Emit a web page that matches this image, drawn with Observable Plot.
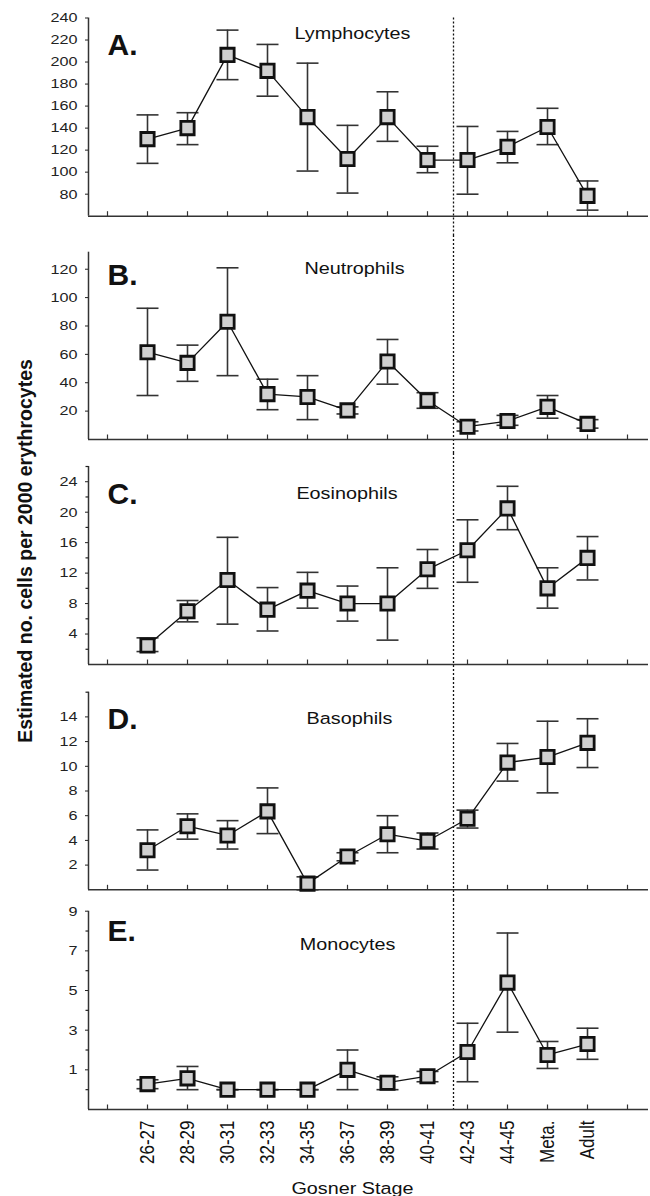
<!DOCTYPE html>
<html>
<head>
<meta charset="utf-8">
<script src="https://cdn.jsdelivr.net/npm/d3@7"></script>
<script src="https://cdn.jsdelivr.net/npm/@observablehq/plot@0.6"></script>
<style>
  body { margin: 0; background: #fff; }
  #chart { position: relative; width: 650px; height: 1196px; font-family: "Liberation Sans", Arial, Helvetica, sans-serif; }
  #chart svg { display: block; overflow: visible; }
  #ylabel { position: absolute; left: 26px; top: 551px; transform: translate(-50%, -50%) rotate(-90deg);
            white-space: nowrap; font-weight: bold; font-size: 19.5px; line-height: 1; color: #111; }
</style>
</head>
<body>
<div id="chart"><div id="ylabel">Estimated no. cells per 2000 erythrocytes</div></div>
<script>
// ---------- data ----------
const stages = ["26-27", "28-29", "30-31", "32-33", "34-35", "36-37", "38-39", "40-41", "42-43", "44-45", "Meta.", "Adult"];

const lymphMean = [130, 140, 206.5, 192, 150, 112, 150, 111, 111, 123, 141, 78.5];
const lymphLow  = [108, 125, 184, 169, 101, 81, 128, 99.5, 80, 108.5, 125, 65.5];
const lymphHigh = [152, 154, 229, 216, 199, 142.5, 173, 123.5, 141.5, 137, 158, 92];

const neutroMean = [61.5, 54, 83, 32, 30, 20.5, 55, 27.5, 9, 13, 23, 11];
const neutroLow  = [31, 41, 45, 21, 14, 18, 39, 22, 6, 10, 15, 8];
const neutroHigh = [92.5, 66.5, 121, 42.5, 45, 23, 70.5, 33, 12.5, 17, 31, 14];

const eosinoMean = [2.5, 7, 11.1, 7.2, 9.7, 8, 8, 12.5, 15, 20.5, 10, 14];
const eosinoLow  = [1.7, 5.6, 5.3, 4.4, 7.4, 5.7, 3.2, 10, 10.8, 17.7, 7.4, 11.1];
const eosinoHigh = [3.5, 8.4, 16.7, 10.1, 12.1, 10.3, 12.7, 15.1, 19, 23.4, 12.7, 16.8];

const basoMean = [3.2, 5.15, 4.4, 6.35, 0.5, 2.7, 4.5, 3.95, 5.75, 10.3, 10.75, 11.9];
const basoLow  = [1.6, 4.1, 3.3, 4.55, 0, 2.35, 3, 3.3, 5.0, 8.8, 7.85, 9.9];
const basoHigh = [4.85, 6.15, 5.6, 8.25, 1.05, 3.0, 6, 4.6, 6.45, 11.85, 13.65, 13.85];

const monoMean = [0.28, 0.57, 0, 0, 0, 1.0, 0.35, 0.68, 1.9, 5.4, 1.75, 2.3];
const monoLow  = [0.05, 0, 0, 0, 0, 0, 0, 0.4, 0.4, 2.9, 1.07, 1.53];
const monoHigh = [0.5, 1.17, 0, 0, 0, 2.0, 0.65, 0.92, 3.35, 7.9, 2.43, 3.1];

const panelTitles  = ["Lymphocytes", "Neutrophils", "Eosinophils", "Basophils", "Monocytes"];
const panelLetters = ["A.", "B.", "C.", "D.", "E."];
const yDomains = [[60, 240], [0, 132], [0, 26], [0, 16], [-1, 9]];
const yTicksA = [80, 100, 120, 140, 160, 180, 200, 220, 240];
const yTicksB = [20, 40, 60, 80, 100, 120];
const yTicksC = [4, 8, 12, 16, 20, 24];
const yTicksD = [2, 4, 6, 8, 10, 12, 14];
const yTicksE = [1, 3, 5, 7, 9];
const yMinorC = [2, 6, 10, 14, 18, 22, 26];
const yMinorD = [16];
const yMinorE = [0, 2, 4, 6, 8];
const xAxisTitle = "Gosner Stage";
const stageDivider = [8.65]; // between 40-41 and 42-43 (index units)

// ---------- layout / style ----------
const FONT = '"Liberation Sans", Arial, Helvetica, sans-serif';
const layout = [
  {height: 235, mt: 17.5, mb: 19.3, tdx: -16, tdy: 9.2,  ldy: 15.5},
  {height: 218, mt: 16.7, mb: 14,   tdx: -14, tdy: 10.3, ldy: 11.3},
  {height: 225, mt: 13,   mb: 14,   tdx: -21.5, tdy: 20.7, ldy: 15.7},
  {height: 222, mt: 13.7, mb: 10.7, tdx: -19, tdy: 20,   ldy: 15.3},
  {height: 296, mt: 10.7, mb: 87,   tdx: -21, tdy: 26.6, ldy: 8.3}
];
const xMin = -0.475, xMax = stages.length + 1.525;
const capSymbol = {draw(ctx) { ctx.moveTo(-11, 0); ctx.lineTo(11, 0); }};
const upStub = {draw(ctx) { ctx.moveTo(0, 0); ctx.lineTo(0, -5); }};
const leftStub = {draw(ctx) { ctx.moveTo(0, 0); ctx.lineTo(-3, 0); }};

const panels = [
  {mean: lymphMean, low: lymphLow, high: lymphHigh, ticks: yTicksA, minor: []},
  {mean: neutroMean, low: neutroLow, high: neutroHigh, ticks: yTicksB, minor: []},
  {mean: eosinoMean, low: eosinoLow, high: eosinoHigh, ticks: yTicksC, minor: yMinorC},
  {mean: basoMean, low: basoLow, high: basoHigh, ticks: yTicksD, minor: yMinorD},
  {mean: monoMean, low: monoLow, high: monoHigh, ticks: yTicksE, minor: yMinorE}
];

const chart = document.getElementById("chart");
const xTickPositions = d3.range(0, stages.length + 2);
const xStageIdx = stages.map((_, i) => i + 1);

panels.forEach((p, k) => {
  const lay = layout[k];
  const first = k === 0, last = k === panels.length - 1;
  const [y0] = yDomains[k];
  const rows = stages.map((s, i) => ({x: i + 1, mean: p.mean[i], lo: p.low[i], hi: p.high[i]}));
  const marks = [
    Plot.ruleX(stageDivider, {stroke: "#111", strokeWidth: 1.3, strokeDasharray: "2,2",
      insetTop: first ? 0 : -lay.mt, insetBottom: last ? 0 : -lay.mb}),
    Plot.ruleX([xMin], {stroke: "#333", strokeWidth: 1.5}),
    Plot.ruleY([y0], {stroke: "#333", strokeWidth: 1.5}),
    Plot.dot(xTickPositions, {x: d => d, y: () => y0, symbol: upStub, fill: "none", stroke: "#333", strokeWidth: 1.2}),
    Plot.axisY(p.ticks, {anchor: "left", tickSize: 3, tickPadding: 8, fontSize: 13.5, label: null, color: "#222"}),
    Plot.ruleX(rows, {x: "x", y1: "lo", y2: "hi", stroke: "#333", strokeWidth: 1.6}),
    Plot.dot(rows, {x: "x", y: "lo", symbol: capSymbol, fill: "none", stroke: "#333", strokeWidth: 1.6}),
    Plot.dot(rows, {x: "x", y: "hi", symbol: capSymbol, fill: "none", stroke: "#333", strokeWidth: 1.6}),
    Plot.line(rows, {x: "x", y: "mean", stroke: "#111", strokeWidth: 1.3}),
    Plot.dot(rows, {x: "x", y: "mean", symbol: "square", r: 7.5, fill: "#d0d0d0", stroke: "#111", strokeWidth: 2.8}),
    Plot.text([panelTitles[k]], {text: d => d, frameAnchor: "top", lineAnchor: "top", dx: lay.tdx, dy: lay.tdy, fontSize: 16.5, fill: "#111"}),
    Plot.text([panelLetters[k]], {text: d => d, frameAnchor: "top-left", textAnchor: "start", lineAnchor: "top", dx: 19, dy: lay.ldy, fontSize: 30, fontWeight: "bold", fill: "#111"})
  ];
  if (p.minor.length) {
    marks.push(Plot.dot(p.minor, {x: () => xMin, y: d => d, symbol: leftStub, fill: "none", stroke: "#222", strokeWidth: 1.2}));
  }
  if (last) {
    marks.push(Plot.axisX(xStageIdx, {anchor: "bottom", tickSize: 0, tickPadding: 11, tickRotate: -90, fontSize: 17,
      tickFormat: i => stages[i - 1], label: null, color: "#111"}));
    marks.push(Plot.text([xAxisTitle], {text: d => d, frameAnchor: "bottom", lineAnchor: "top", dx: -16, dy: 72.7, fontSize: 16.5, fill: "#111"}));
  }
  const svg = Plot.plot({
    width: 650,
    height: lay.height,
    marginLeft: 88,
    marginRight: 2,
    marginTop: lay.mt,
    marginBottom: lay.mb,
    x: last ? {type: "linear", domain: [xMin, xMax]} : {type: "linear", domain: [xMin, xMax], axis: null},
    y: {type: "linear", domain: yDomains[k]},
    style: {fontFamily: FONT, fontSize: "13.5px", color: "#222", background: "transparent", overflow: "visible"},
    marks
  });
  // horizontal stretch of lettering, as in the source figure
  svg.querySelectorAll("text").forEach(t => {
    if (/^[A-E]\.$/.test(t.textContent)) return;
    const tr = t.getAttribute("transform") || "";
    if (tr.includes("rotate")) t.setAttribute("transform", tr + " scale(1,1.2)");
    else t.setAttribute("transform", (tr ? tr + " " : "") + "scale(1.2,1)");
  });
  chart.appendChild(svg);
});
</script>
</body>
</html>
